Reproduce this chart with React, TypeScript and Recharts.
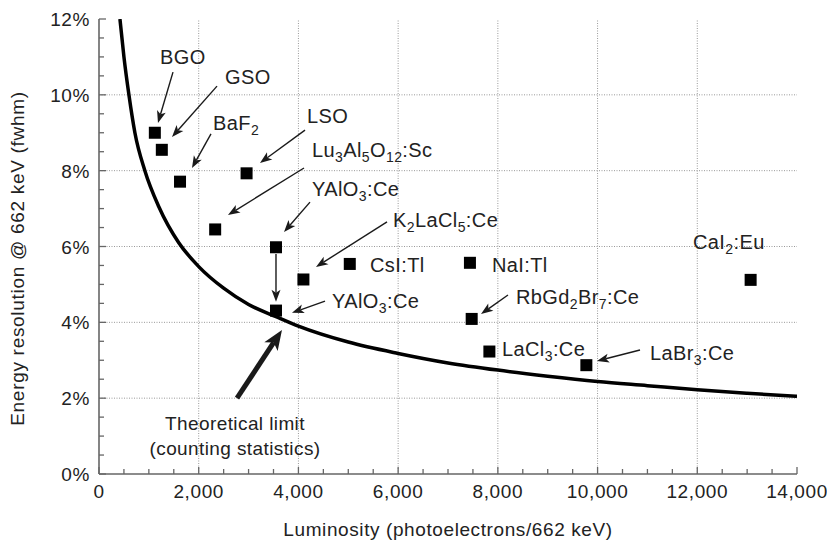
import React from "react";
import {
  ComposedChart,
  XAxis,
  YAxis,
  Line,
  Scatter,
  ReferenceLine,
  ReferenceDot,
} from "recharts";

// ---- Data ----
const crystals = [
  "BGO", "GSO", "BaF2", "LSO", "Lu3Al5O12:Sc", "YAlO3:Ce", "YAlO3:Ce (corrected)",
  "K2LaCl5:Ce", "CsI:Tl", "NaI:Tl", "RbGd2Br7:Ce", "LaCl3:Ce", "LaBr3:Ce", "CaI2:Eu",
];
const luminosity = [1120, 1260, 1625, 2960, 2330, 3550, 3550, 4100, 5030, 7440, 7475, 7830, 9775, 13070];
const resolution = [9.0, 8.55, 7.71, 7.93, 6.45, 5.98, 4.31, 5.13, 5.54, 5.57, 4.09, 3.23, 2.87, 5.12];

// Theoretical limit curve
const limitX = [420, 500, 600, 720, 920, 1200, 1600, 2000, 2500, 3000, 3550, 4000, 5000, 6000, 7000, 8000, 9000, 10000, 11000, 12000, 13000, 14000];
const limitY = [12.0, 11.0, 10.0, 9.0, 8.0, 7.05, 6.1, 5.47, 4.9, 4.47, 4.15, 3.9, 3.48, 3.18, 2.93, 2.74, 2.58, 2.44, 2.33, 2.22, 2.13, 2.05];

// Ticks & grid
const xTicks = [0, 500, 1000, 1500, 2000, 2500, 3000, 3500, 4000, 4500, 5000, 5500, 6000, 6500, 7000, 7500, 8000, 8500, 9000, 9500, 10000, 10500, 11000, 11500, 12000, 12500, 13000, 13500, 14000];
const yTicks = [0, 0.5, 1, 1.5, 2, 2.5, 3, 3.5, 4, 4.5, 5, 5.5, 6, 6.5, 7, 7.5, 8, 8.5, 9, 9.5, 10, 10.5, 11, 11.5, 12];
const xGrid = [2000, 4000, 6000, 8000, 10000, 12000];
const yGrid = [2, 4, 6, 8, 10];

// Annotation labels (text uses _{..} for subscripts)
const labelTexts = [
  "BGO", "GSO", "BaF_{2}", "LSO", "Lu_{3}Al_{5}O_{12}:Sc", "YAlO_{3}:Ce", "K_{2}LaCl_{5}:Ce",
  "CsI:Tl", "NaI:Tl", "YAlO_{3}:Ce", "RbGd_{2}Br_{7}:Ce", "LaCl_{3}:Ce", "LaBr_{3}:Ce", "CaI_{2}:Eu",
  "Theoretical limit", "(counting statistics)",
];
const labelX = [1223, 2527, 2287, 4172, 4272, 4272, 5897, 5435, 7882, 4673, 8364, 8083, 11051, 11914, 2728, 2728];
const labelY = [11.0, 10.47, 9.26, 9.44, 8.55, 7.52, 6.7, 5.51, 5.51, 4.55, 4.67, 3.3, 3.2, 6.12, 1.35, 0.69];
const labelCentered = [false, false, false, false, false, false, false, false, false, false, false, false, false, false, true, true];

// Arrows: from (x1,y1) to (x2,y2)
const arrowX1 = [1484, 2367, 2246, 4132, 4112, 4232, 3550, 5777, 4533, 8203, 10851, 2768];
const arrowY1 = [10.6, 10.23, 8.97, 9.07, 8.07, 7.17, 5.8, 6.65, 4.56, 4.72, 3.27, 2.0];
const arrowX2 = [1183, 1464, 1865, 3229, 2587, 3711, 3550, 4352, 3871, 7662, 9989, 3670];
const arrowY2 = [9.26, 8.89, 8.07, 8.2, 6.83, 6.38, 4.54, 5.46, 4.25, 4.22, 2.98, 3.8];
const arrowHeavy = [false, false, false, false, false, false, false, false, false, false, false, true];

const points = luminosity.map((x, i) => ({ x, y: resolution[i], name: crystals[i] }));
const limitCurve = limitX.map((x, i) => ({ x, y: limitY[i] }));

// ---- Styles ----
const FONT = '"Liberation Sans", Arial, Helvetica, sans-serif';
const TEXT = "#222";
const AXIS = "#666";
const FS = 19;
const AFS = 20;

const BottomTick = (p: any) => {
  const v = p.payload.value;
  const major = v % 2000 === 0;
  return (
    <g>
      <line x1={p.x} x2={p.x} y1={p.y} y2={p.y - (major ? 7 : 5)} stroke={AXIS} strokeWidth={1.3} />
      {major && (
        <text x={p.x} y={p.y + 24} textAnchor="middle" fontSize={FS} fontFamily={FONT} fill={TEXT} letterSpacing={0.6}>
          {v.toLocaleString("en-US")}
        </text>
      )}
    </g>
  );
};
const TopTick = (p: any) => {
  const v = p.payload.value;
  const major = v % 2000 === 0;
  return <line x1={p.x} x2={p.x} y1={p.y} y2={p.y + (major ? 7 : 5)} stroke={AXIS} strokeWidth={1.3} />;
};
const LeftTick = (p: any) => {
  const v = p.payload.value;
  const major = v % 2 === 0;
  return (
    <g>
      <line x1={p.x} x2={p.x + (major ? 7 : 5)} y1={p.y} y2={p.y} stroke={AXIS} strokeWidth={1.3} />
      {major && (
        <text x={p.x - 9} y={p.y + 7} textAnchor="end" fontSize={FS} fontFamily={FONT} fill={TEXT} letterSpacing={0.6}>
          {v + "%"}
        </text>
      )}
    </g>
  );
};
const RightTick = (p: any) => {
  const v = p.payload.value;
  const major = v % 2 === 0;
  return <line x1={p.x} x2={p.x - (major ? 7 : 5)} y1={p.y} y2={p.y} stroke={AXIS} strokeWidth={1.3} />;
};

function RichText(props: { x: number; y: number; text: string; centered: boolean }) {
  const parts = props.text.split(/(_\{[^}]*\})/).filter((s) => s.length > 0);
  let prevSub = false;
  return (
    <text
      x={props.x}
      y={props.y + 7}
      textAnchor={props.centered ? "middle" : "start"}
      fontSize={props.centered ? FS : AFS}
      fontFamily={FONT}
      fill={TEXT}
      letterSpacing={0.4}
    >
      {parts.map((s, i) => {
        if (s.startsWith("_{")) {
          const el = (
            <tspan key={i} dy={prevSub ? 0 : 5} fontSize={14}>
              {s.slice(2, -1)}
            </tspan>
          );
          prevSub = true;
          return el;
        }
        const el = (
          <tspan key={i} dy={prevSub ? -5 : 0}>
            {s}
          </tspan>
        );
        prevSub = false;
        return el;
      })}
    </text>
  );
}

const makeArrow = (heavy: boolean) => (p: any) => {
  const { x1, y1, x2, y2 } = p;
  const dx = x2 - x1;
  const dy = y2 - y1;
  const len = Math.hypot(dx, dy) || 1;
  const ux = dx / len;
  const uy = dy / len;
  const hl = heavy ? 20 : 12;
  const hw = heavy ? 8 : 4.5;
  const notch = heavy ? 5 : 3;
  const bx = x2 - ux * hl;
  const by = y2 - uy * hl;
  const nx = -uy;
  const ny = ux;
  const mx = x2 - ux * (hl - notch);
  const my = y2 - uy * (hl - notch);
  const pts = [
    [x2, y2],
    [bx + nx * hw, by + ny * hw],
    [mx, my],
    [bx - nx * hw, by - ny * hw],
  ];
  return (
    <g>
      <line x1={x1} y1={y1} x2={mx} y2={my} stroke="#1a1a1a" strokeWidth={heavy ? 5 : 1.4} />
      <polygon points={pts.map((q) => q.join(",")).join(" ")} fill="#1a1a1a" />
    </g>
  );
};

const Square = (p: any) => <rect x={p.cx - 6} y={p.cy - 6} width={12} height={12} fill="#000" />;

export default function App() {
  return (
    <div style={{ position: "absolute", left: 0, top: 0 }}>
      <ComposedChart width={827} height={542} margin={{ top: 19, right: 30, bottom: 0, left: 0 }}>
        <XAxis
          xAxisId="b"
          dataKey="x"
          type="number"
          domain={[0, 14000]}
          allowDataOverflow
          ticks={xTicks}
          interval={0}
          height={68}
          tickSize={0}
          tickMargin={0}
          tickLine={false}
          axisLine={{ stroke: AXIS, strokeWidth: 1.6 }}
          tick={BottomTick}
          label={{
            content: (lp: any) => {
              const vb = lp.viewBox || { x: 99, y: 474, width: 698, height: 68 };
              return (
                <text x={vb.x + vb.width / 2} y={vb.y + 62} textAnchor="middle" fontSize={FS} fontFamily={FONT} fill={TEXT} letterSpacing={0.6}>
                  Luminosity (photoelectrons/662 keV)
                </text>
              );
            },
          }}
        />
        <XAxis
          xAxisId="t"
          dataKey="x"
          type="number"
          orientation="top"
          domain={[0, 14000]}
          allowDataOverflow
          ticks={xTicks}
          interval={0}
          height={0}
          tickSize={0}
          tickMargin={0}
          tickLine={false}
          axisLine={{ stroke: AXIS, strokeWidth: 1.6 }}
          tick={TopTick}
        />
        <YAxis
          yAxisId="l"
          dataKey="y"
          type="number"
          domain={[0, 12]}
          allowDataOverflow
          ticks={yTicks}
          interval={0}
          width={99}
          tickSize={0}
          tickMargin={0}
          tickLine={false}
          axisLine={{ stroke: AXIS, strokeWidth: 1.6 }}
          tick={LeftTick}
          label={{
            content: (lp: any) => {
              const vb = lp.viewBox || { x: 0, y: 19, width: 99, height: 455 };
              const cx = 24;
              const cy = vb.y + vb.height / 2 + 12;
              return (
                <text x={cx} y={cy} transform={`rotate(-90 ${cx} ${cy})`} textAnchor="middle" fontSize={FS} fontFamily={FONT} fill={TEXT} letterSpacing={0.7}>
                  Energy resolution @ 662 keV (fwhm)
                </text>
              );
            },
          }}
        />
        <YAxis
          yAxisId="r"
          dataKey="y"
          type="number"
          orientation="right"
          domain={[0, 12]}
          allowDataOverflow
          ticks={yTicks}
          interval={0}
          width={0}
          tickSize={0}
          tickMargin={0}
          tickLine={false}
          axisLine={{ stroke: AXIS, strokeWidth: 1.6 }}
          tick={RightTick}
        />

        {xGrid.map((v) => (
          <ReferenceLine key={"gx" + v} xAxisId="b" yAxisId="l" x={v} stroke="#999" strokeWidth={1} strokeDasharray="1 1.5" />
        ))}
        {yGrid.map((v) => (
          <ReferenceLine key={"gy" + v} xAxisId="b" yAxisId="l" y={v} stroke="#999" strokeWidth={1} strokeDasharray="1 1.5" />
        ))}

        <Line
          xAxisId="b"
          yAxisId="l"
          data={limitCurve}
          dataKey="y"
          type="monotone"
          stroke="#000"
          strokeWidth={3.5}
          dot={false}
          activeDot={false}
          isAnimationActive={false}
        />
        <Scatter xAxisId="b" yAxisId="l" data={points} dataKey="y" shape={Square} isAnimationActive={false} />

        {arrowX1.map((x1, i) => (
          <ReferenceLine
            key={"ar" + i}
            xAxisId="b"
            yAxisId="l"
            segment={[
              { x: x1, y: arrowY1[i] },
              { x: arrowX2[i], y: arrowY2[i] },
            ]}
            ifOverflow="visible"
            shape={makeArrow(arrowHeavy[i])}
          />
        ))}

        {labelTexts.map((t, i) => (
          <ReferenceDot
            key={"lb" + i}
            xAxisId="b"
            yAxisId="l"
            x={labelX[i]}
            y={labelY[i]}
            r={0}
            ifOverflow="visible"
            shape={(p: any) => <RichText x={p.cx} y={p.cy} text={t} centered={labelCentered[i]} />}
          />
        ))}
      </ComposedChart>
    </div>
  );
}
